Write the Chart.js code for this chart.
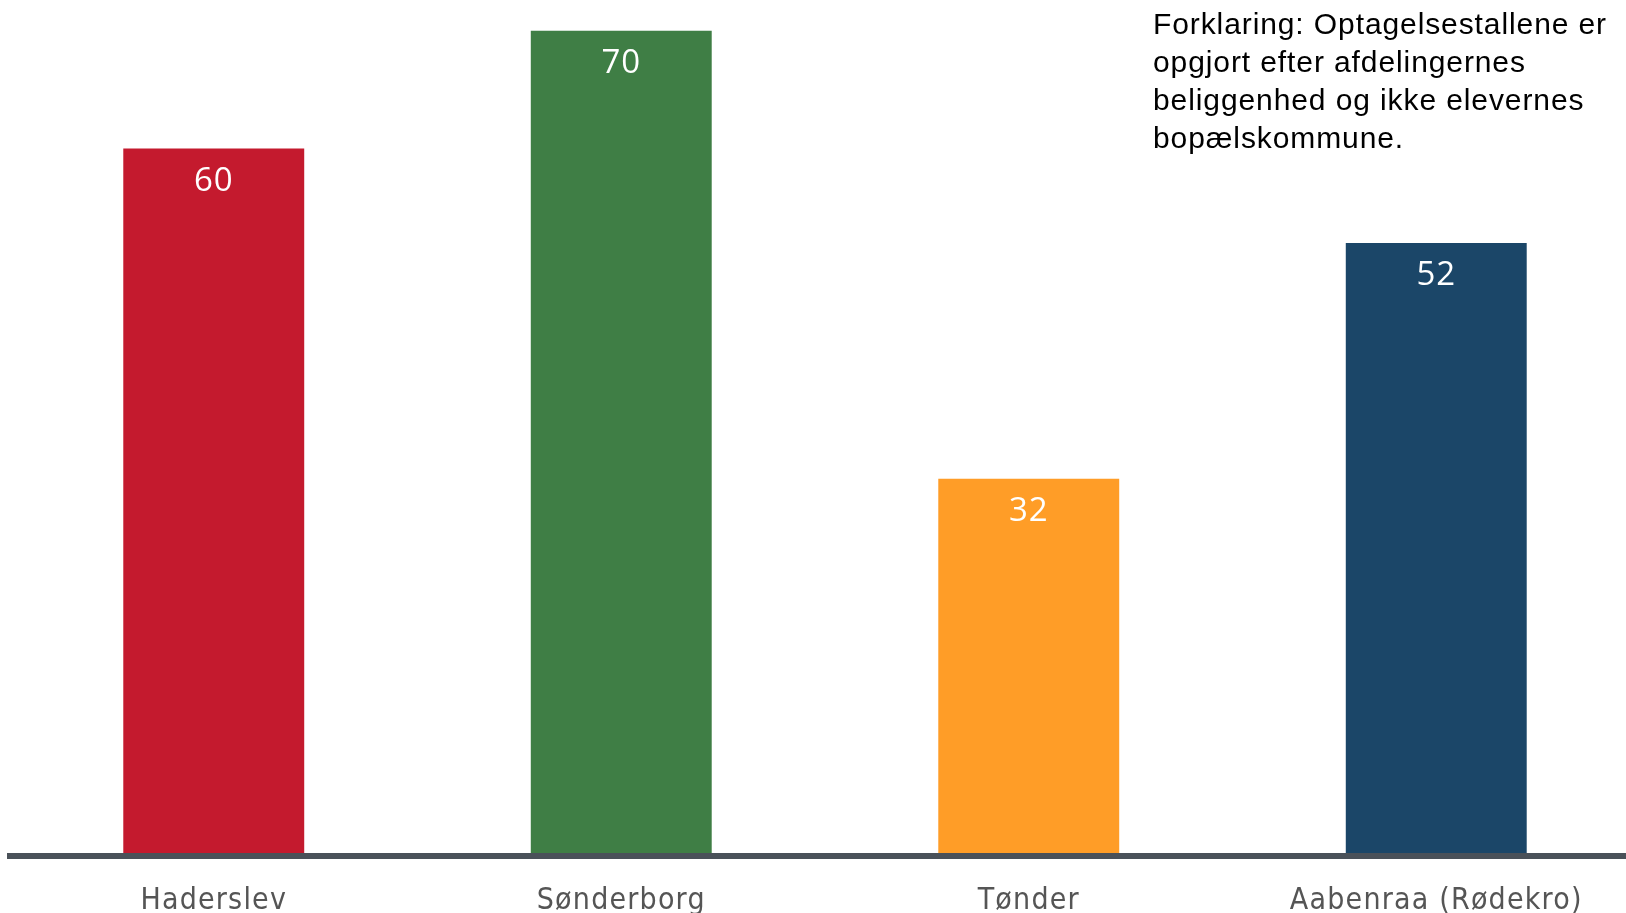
<!DOCTYPE html>
<html>
<head>
<meta charset="utf-8">
<script src="https://cdn.jsdelivr.net/npm/chart.js@4/dist/chart.umd.min.js"></script>
<style>
	html, body { margin: 0; padding: 0; background: #fff; overflow: hidden; }
	#wrap { position: relative; width: 1640px; height: 913px; }
	#note {
		position: absolute; left: 1153px; top: 5px;
		font-family: "Liberation Sans", Arial, sans-serif;
		font-size: 30px; line-height: 38px; letter-spacing: 0.9px; color: #000;
	}
</style>
</head>
<body>
<div id="wrap">
	<canvas id="chart" width="1640" height="913"></canvas>
	<div id="note">Forklaring: Optagelsestallene er<br>opgjort efter afdelingernes<br>beliggenhed og ikke elevernes<br>bopælskommune.</div>
</div>
<script>
// Optagelse pr. afdeling
var categories = [ 'Haderslev', 'Sønderborg', 'Tønder', 'Aabenraa (Rødekro)' ];
var values     = [ 60, 70, 32, 52 ];
var barColors  = [ '#c41a2e', '#3f7e45', '#ff9d27', '#1b4668' ];

// Spaced-out lettering for the axis labels (canvas letterSpacing).
var spacing = {
	id: 'spacing',
	beforeDraw: function ( chart ) { chart.ctx.letterSpacing = '1.2px'; },
	afterDraw: function ( chart ) { chart.ctx.letterSpacing = '0px'; }
};

// Writes each bar's value in white just below its top edge.
var valueLabels = {
	id: 'valueLabels',
	afterDatasetsDraw: function ( chart ) {
		var ctx  = chart.ctx;
		var meta = chart.getDatasetMeta( 0 );
		ctx.save();
		ctx.letterSpacing = '1px';
		ctx.fillStyle     = '#ffffff';
		ctx.font          = '33px "Open Sans", sans-serif';
		ctx.textAlign     = 'center';
		ctx.textBaseline  = 'middle';
		meta.data.forEach( function ( bar, i ) {
			ctx.fillText( values[ i ], bar.x, bar.y + 33 );
		} );
		ctx.restore();
	}
};

new Chart( document.getElementById( 'chart' ), {
	type: 'bar',
	data: {
		labels: categories,
		datasets: [ {
			data: values,
			backgroundColor: barColors,
			barPercentage: 0.444,
			categoryPercentage: 1
		} ]
	},
	options: {
		responsive: false,
		animation: false,
		layout: { padding: { left: 10, right: 0, top: 0, bottom: 0 } },
		plugins: { legend: { display: false }, tooltip: { enabled: false } },
		scales: {
			x: {
				grid: { display: false, drawTicks: false },
				border: { display: true, color: '#4a5159', width: 6, z: 1 },
				ticks: {
					color: '#555555',
					padding: 27,
					font: { family: '"Liberation Sans Narrow", "DejaVu Sans Condensed", sans-serif', size: 30 }
				},
				afterFit: function ( scale ) { scale.height = 57; }
			},
			y: {
				display: false,
				min: 0,
				max: 72.6
			}
		}
	},
	plugins: [ spacing, valueLabels ]
} );
</script>
</body>
</html>
